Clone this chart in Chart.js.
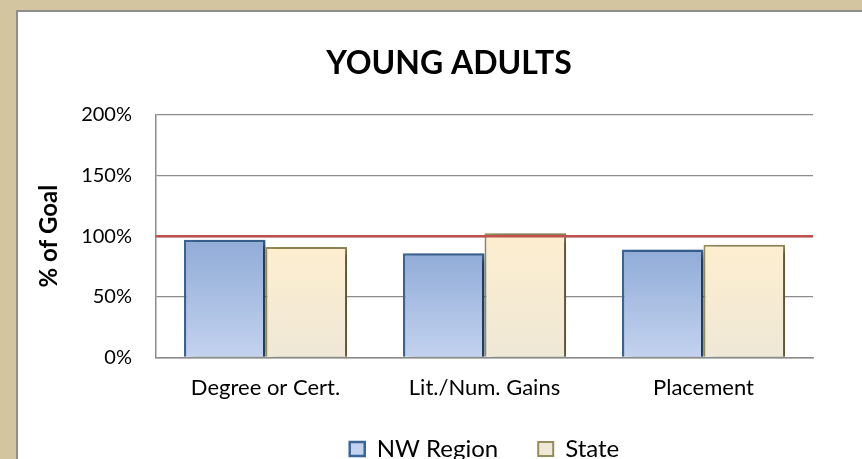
<!DOCTYPE html>
<html>
<head>
<meta charset="utf-8">
<script src="https://cdn.jsdelivr.net/npm/chart.js@4.4.1/dist/chart.umd.min.js"></script>
<style>
    html, body { margin: 0; padding: 0; width: 862px; height: 459px; overflow: hidden; background: #d4c5a1; }
    #panel { position: absolute; left: 16px; top: 10px; width: 846px; height: 449px; background: #fff;
             border-left: 2px solid #8e8e8e; border-top: 2px solid #8e8e8e; }
    #wrap { position: absolute; left: 0; top: 0; width: 862px; height: 459px; }
</style>
</head>
<body>
<div id="panel"><div id="wrap"><canvas id="chart"></canvas></div></div>
<script>
const categories = ['Degree or Cert.', 'Lit./Num. Gains', 'Placement'];
const nwRegion = [97, 86, 89];
const stateVals = [91, 102.5, 93];
const goalValue = 100;
const yMin = 0, yMax = 200, yStep = 50;

const FONT = 'Lato, "Open Sans", sans-serif';

// vertical gradient per bar, from the bar top down to the axis
function barGradient(top, bottom) {
    return (ctx) => {
        const chart = ctx.chart;
        if (!chart.chartArea || !chart.scales.y || ctx.raw === undefined) return bottom;
        const y = chart.scales.y;
        const g = chart.ctx.createLinearGradient(0, y.getPixelForValue(ctx.raw), 0, y.getPixelForValue(0));
        g.addColorStop(0, top);
        g.addColorStop(1, bottom);
        return g;
    };
}

// soft drop shadow behind the bars
const barShadow = {
    id: 'barShadow',
    beforeDatasetDraw(chart) {
        const c = chart.ctx;
        c.save();
        c.shadowColor = 'rgba(0,0,0,0.45)';
        c.shadowBlur = 8;
        c.shadowOffsetX = 6;
        c.shadowOffsetY = 3;
    },
    afterDatasetDraw(chart) {
        chart.ctx.restore();
    }
};

// red goal line across the plot, drawn on top of the bars
const goalLine = {
    id: 'goalLine',
    afterDatasetsDraw(chart) {
        const { ctx, chartArea: a, scales: { y } } = chart;
        const py = y.getPixelForValue(goalValue);
        ctx.save();
        ctx.strokeStyle = '#c0504d';
        ctx.lineWidth = 2.5;
        ctx.beginPath();
        ctx.moveTo(a.left, py);
        ctx.lineTo(a.right, py);
        ctx.stroke();
        ctx.restore();
    }
};

new Chart(document.getElementById('chart'), {
    type: 'bar',
    data: {
        labels: categories,
        datasets: [
            {
                label: 'NW Region', data: nwRegion,
                backgroundColor: barGradient('#90acd7', '#c3d2ef'),
                borderColor: '#3b6497', borderWidth: 2.5,
                categoryPercentage: 0.745, barPercentage: 1
            },
            {
                label: 'State', data: stateVals,
                backgroundColor: barGradient('#fdeecf', '#efe8d6'),
                borderColor: '#958c5a', borderWidth: 2,
                categoryPercentage: 0.745, barPercentage: 1
            }
        ]
    },
    options: {
        responsive: true, maintainAspectRatio: false, animation: false,
        layout: { padding: 0 },
        scales: {
            x: {
                grid: { display: false, drawTicks: false },
                border: { color: '#8c8c8c', width: 1.5 },
                ticks: { color: '#000', font: { family: FONT, size: 22 }, padding: 17, maxRotation: 0 },
                afterFit: (s) => {
                    s.height = 39.5;
                    s._computeLabelArea = () => undefined;   // labels run into the legend's padding, don't clip them
                }
            },
            y: {
                min: yMin, max: yMax,
                grid: { color: '#8c8c8c', lineWidth: 1.3, drawTicks: false },
                border: { color: '#8c8c8c', width: 1.5 },
                ticks: { stepSize: yStep, color: '#000', padding: 24, font: { family: FONT, size: 20 },
                         callback: (v) => v + '%' },
                title: { display: true, text: '% of Goal', color: '#000', padding: { top: 17 },
                         font: { family: FONT, size: 24, weight: 'bold' } },
                afterFit: (s) => { s.width = 138; }
            },
            y2: {
                position: 'right', display: true,
                grid: { display: false, drawTicks: false },
                border: { display: false },
                ticks: { display: false },
                afterFit: (s) => { s.width = 862 - 795; }
            }
        },
        plugins: {
            title: {
                display: true, text: 'YOUNG ADULTS', color: '#000',
                font: { family: FONT, size: 32, weight: 'bold' },
                padding: { top: 32, bottom: 32.5 }
            },
            legend: {
                position: 'bottom', fullSize: false,
                labels: { color: '#000', boxWidth: 15, boxHeight: 14, padding: 40,
                          font: { family: FONT, size: 24 } }
            },
            tooltip: { enabled: false }
        }
    },
    plugins: [barShadow, goalLine]
});
</script>
</body>
</html>
